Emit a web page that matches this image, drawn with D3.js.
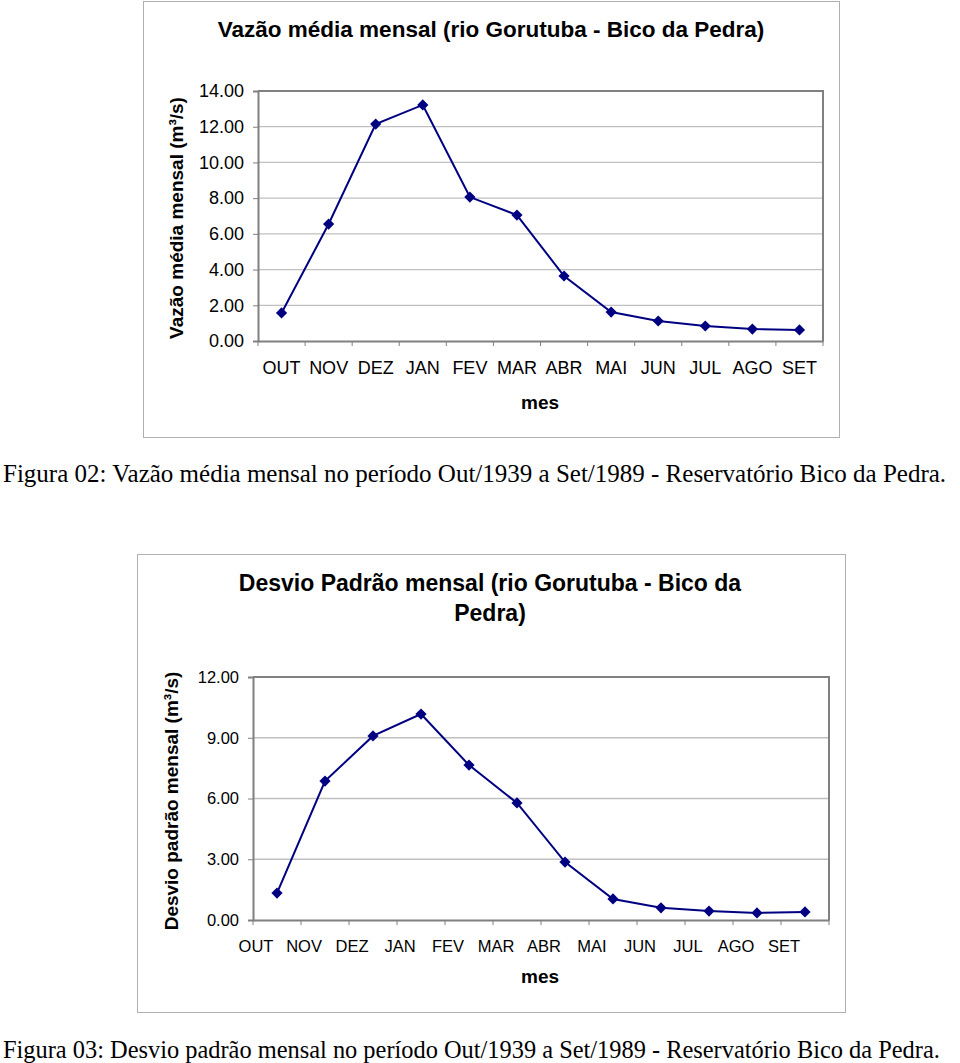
<!DOCTYPE html>
<html><head><meta charset="utf-8">
<script src="https://cdn.jsdelivr.net/npm/d3@7"></script>
<style>
html,body{margin:0;padding:0;background:#fff;}
svg{display:block;}
text{font-family:"Liberation Sans",Arial,sans-serif;fill:#000;}
.cap{font-family:"Liberation Serif","Times New Roman",serif;}
</style></head>
<body>
<script>
const months = ["OUT","NOV","DEZ","JAN","FEV","MAR","ABR","MAI","JUN","JUL","AGO","SET"];
const vazaoMedia = [1.57, 6.55, 12.15, 13.22, 8.06, 7.05, 3.64, 1.62, 1.12, 0.84, 0.67, 0.62];
const desvioPadrao = [1.33, 6.86, 9.09, 10.17, 7.65, 5.78, 2.86, 1.04, 0.60, 0.44, 0.35, 0.40];
const ticksTop = [0, 2, 4, 6, 8, 10, 12, 14];
const ticksBottom = [0, 3, 6, 9, 12];
const title1 = "Vazão média mensal (rio Gorutuba - Bico da Pedra)";
const title2 = ["Desvio Padrão mensal (rio Gorutuba - Bico da", "Pedra)"];
const yTitle1 = "Vazão média mensal (m³/s)";
const yTitle2 = "Desvio padrão mensal (m³/s)";
const xTitle = "mes";
const caption1 = "Figura 02: Vazão média mensal no período Out/1939 a Set/1989 - Reservatório Bico da Pedra.";
const caption2 = "Figura 03: Desvio padrão mensal no período Out/1939 a Set/1989 - Reservatório Bico da Pedra.";

const svg = d3.select("body").append("svg").attr("width",960).attr("height",1063);

function chart(cfg){
  const g = svg.append("g");
  g.append("rect").attr("x",cfg.box[0]+0.5).attr("y",cfg.box[1]+0.5)
    .attr("width",cfg.box[2]-cfg.box[0]).attr("height",cfg.box[3]-cfg.box[1])
    .attr("fill","#fff").attr("stroke","#b0b0b0").attr("stroke-width",1);
  const [L,T,R,B] = cfg.plot;
  const x = d3.scaleBand().domain(months).range([L,R]).padding(0);
  const y = d3.scaleLinear().domain(cfg.domain).range([B,T]);
  g.append("g").selectAll("line").data(cfg.ticks.filter(t=>t>cfg.domain[0]&&t<cfg.domain[1]))
    .join("line").attr("x1",L).attr("x2",R).attr("y1",d=>y(d)).attr("y2",d=>y(d))
    .attr("stroke","#c0c0c0").attr("stroke-width",1.3);
  g.append("path").attr("d",`M${L},${T}H${R}V${B}`).attr("fill","none").attr("stroke","#808080").attr("stroke-width",2);
  const ya = d3.axisLeft(y).tickValues(cfg.ticks).tickFormat(d3.format(".2f")).tickSize(5).tickPadding(cfg.ytp);
  const yg = g.append("g").attr("transform",`translate(${L},0)`).call(ya);
  yg.select(".domain").attr("stroke","#808080").attr("stroke-width",2);
  yg.selectAll(".tick line").attr("stroke","#808080");
  yg.selectAll("text").attr("font-size",cfg.tfs).attr("fill","#000").attr("font-family",'"Liberation Sans",Arial,sans-serif');
  const xa = d3.axisBottom(x).tickSize(0).tickPadding(cfg.xtp);
  const xg = g.append("g").attr("transform",`translate(0,${B})`).call(xa);
  xg.select(".domain").attr("stroke","#808080").attr("stroke-width",2);
  xg.selectAll("text").attr("font-size",cfg.tfs).attr("fill","#000").attr("font-family",'"Liberation Sans",Arial,sans-serif')
    .attr("dx",cfg.xdx);
  g.append("g").selectAll("line").data(months.concat(["_end"])).join("line")
    .attr("x1",(d,i)=>L+i*x.bandwidth()).attr("x2",(d,i)=>L+i*x.bandwidth())
    .attr("y1",B).attr("y2",B+5).attr("stroke","#808080").attr("stroke-width",1);
  const line = d3.line().x((d,i)=>x(months[i])+x.bandwidth()/2).y(d=>y(d));
  g.append("path").datum(cfg.data).attr("d",line).attr("fill","none").attr("stroke","#000080").attr("stroke-width",2);
  const sym = d3.symbol().type(d3.symbolDiamond2).size(80);
  g.append("g").selectAll("path").data(cfg.data).join("path")
    .attr("transform",(d,i)=>`translate(${x(months[i])+x.bandwidth()/2},${y(d)})`)
    .attr("d",sym).attr("fill","#000080");
  cfg.title.forEach((t,i)=>{
    g.append("text").attr("x",cfg.titlePos[0]).attr("y",cfg.titlePos[1]+i*cfg.titleLH)
      .attr("text-anchor","middle").attr("font-size",cfg.titleFs).attr("font-weight","bold").text(t);
  });
  g.append("text").attr("transform",`translate(${cfg.yTitlePos[0]},${cfg.yTitlePos[1]}) rotate(-90)`)
    .attr("text-anchor","middle").attr("font-size",cfg.ytfs).attr("font-weight","bold").text(cfg.yTitle);
  g.append("text").attr("x",cfg.xTitlePos[0]).attr("y",cfg.xTitlePos[1])
    .attr("text-anchor","middle").attr("font-size",cfg.ytfs).attr("font-weight","bold").text(xTitle);
}

chart({box:[143,1,839,437], plot:[258,91,823,341], domain:[0,14], ticks:ticksTop, data:vazaoMedia,
  title:[title1], titlePos:[491,37], titleLH:0, titleFs:22.5, yTitle:yTitle1, yTitlePos:[183,218], ytfs:19,
  xTitlePos:[540,409], tfs:18, ytp:9, xtp:20, xdx:0});
chart({box:[137,554,845,1012], plot:[253,677,829,920], domain:[0,12], ticks:ticksBottom, data:desvioPadrao,
  title:title2, titlePos:[490,591], titleLH:30, titleFs:23, yTitle:yTitle2, yTitlePos:[178,801], ytfs:19,
  xTitlePos:[540,983], tfs:16.5, ytp:9, xtp:20, xdx:-21});

svg.append("text").attr("class","cap").attr("x",3).attr("y",482).attr("font-size",25).text(caption1);
svg.append("text").attr("class","cap").attr("x",3).attr("y",1058).attr("font-size",24.4).text(caption2);
</script>
</body></html>
